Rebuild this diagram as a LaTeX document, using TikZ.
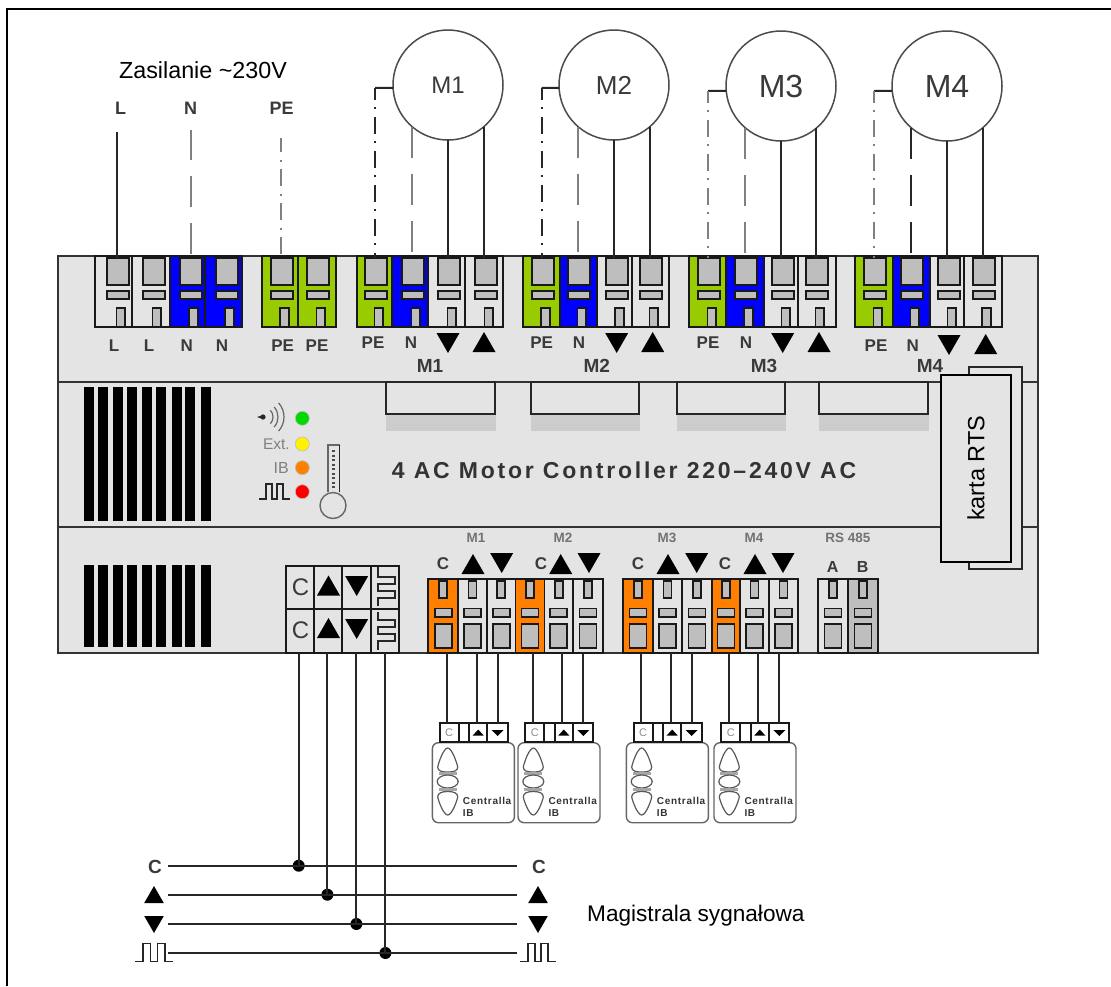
\documentclass[tikz,border=0pt]{standalone}
\usepackage{fontspec}
\setmainfont{Liberation Sans}
\newfontfamily\titlefont[LetterSpace=12]{Liberation Sans}
\newfontfamily\spacedfont[LetterSpace=7]{Liberation Sans}
\definecolor{devbg}{HTML}{E4E4E4}
\definecolor{portgray}{HTML}{BEBEBE}
\definecolor{tblue}{HTML}{0000FF}
\definecolor{tgreen}{HTML}{99CC00}
\definecolor{torange}{HTML}{FF8000}
\definecolor{tshadow}{HTML}{CCCCCC}
\definecolor{soft}{HTML}{3A3A3A}
\definecolor{wiregray}{HTML}{808080}
\newcommand{\fsz}[1]{\fontsize{#1}{#1}\selectfont}
\tikzset{
  cellline/.style={draw=black!90,line width=1.9},
  portbox/.style={draw=black!90,line width=1.9,fill=portgray,inner sep=0pt,outer sep=0pt},
  wire/.style={draw=black!85,line width=2},
  nwire/.style={draw=wiregray,line width=2,dash pattern=on 31 off 16},
  pewire/.style={draw=wiregray,line width=2,dash pattern=on 17 off 7.5 on 2 off 7.5},
  label/.style={inner sep=0pt,text=soft},
  motor/.style={circle,draw=black!70,line width=1.5,fill=white,minimum size=110pt,inner sep=0pt,outer sep=0pt,text=soft},
  led/.style={circle,draw=black!25,line width=.6,minimum size=14pt,inner sep=0pt},
  busdot/.style={circle,fill=black,minimum size=12pt,inner sep=0pt},
  remotebox/.style={draw=black!60,line width=1.4,rounded corners=6pt,fill=white},
  btn/.style={draw=black!65,line width=1.2},
}
\newcommand{\topT}[5]{%
  \draw[cellline,fill=#4] (#2,256) rectangle (#3,327);
  \node[portbox,minimum width=22pt,minimum height=27pt] (#1) at (#5,271.5) {};
  \draw[cellline,fill=portgray] ({#5-11},290.7) rectangle ({#5+11},299.3);
  \draw[cellline,fill=portgray] ({#5-1.5},308) rectangle ({#5+7},327);
}
\newcommand{\lowT}[4]{%
  \draw[cellline,fill=#4] (#2,579) rectangle (#3,653);
  \node[portbox,minimum width=17pt,minimum height=24pt] (#1) at ({(#2+#3)/2},636) {};
  \draw[cellline,fill=portgray] ({(#2+#3)/2-8.5},608.5) rectangle ({(#2+#3)/2+8.5},617);
  \draw[cellline,fill=portgray] ({(#2+#3)/2-4},581) rectangle ({(#2+#3)/2+4},598);
}
\newcommand{\upT}[3][1]{\fill[black,shift={(#2,#3)},scale=#1] (-11.5,10) -- (0,-10) -- (11.5,10) -- cycle;}
\newcommand{\dnT}[3][1]{\fill[black,shift={(#2,#3)},scale=#1] (-11.5,-10) -- (0,10) -- (11.5,-10) -- cycle;}
\newcommand{\pulseS}[4]{\draw[line width=1.8,black!85,shift={(#1,#2)},xscale=#3,yscale=#4] (0,1) -- (2.2,1) -- (2.2,0) -- (4.1,0) -- (4.1,1) -- (5.9,1) -- (5.9,0) -- (7.8,0) -- (7.8,1) -- (10,1);}
% name, left
\newcommand{\remote}[2]{%
  \node[remotebox,minimum width=82pt,minimum height=80pt,anchor=north west,inner sep=0pt] (#1) at (#2,742) {};
  \begin{scope}[shift={(#2,0)}]
    \draw[cellline,fill=white] (8,723) rectangle (76,742);
    \coordinate (#1c) at (15.5,723); \coordinate (#1u) at (44.8,723); \coordinate (#1d) at (66,723);
    \draw[cellline] (27,723) -- (27,742) (37.5,723) -- (37.5,742) (55.5,723) -- (55.5,742);
    \node[label,text=black!45] at (17.5,733) {\fsz{11}C};
    \fill[black] (41,735.5) -- (46.5,729.5) -- (52,735.5) -- cycle;
    \fill[black] (60,730) -- (66,736) -- (72,730) -- cycle;
    \draw[btn] (16,748) .. controls (12,748) and (7,762) .. (6,767) .. controls (6,771) and (10,772) .. (16,772) .. controls (22,772) and (26,771) .. (26,767) .. controls (25,762) and (20,748) .. (16,748) -- cycle;
    \fill[black!35] (7,772) rectangle (25,775);
    \draw[btn] (16,781.5) ellipse [x radius=10.5,y radius=6.5];
    \fill[black!35] (7,788) rectangle (25,791);
    \draw[btn] (16,815) .. controls (12,815) and (7,802) .. (6,797) .. controls (6,793) and (10,791.5) .. (16,791.5) .. controls (22,791.5) and (26,793) .. (26,797) .. controls (25,802) and (20,815) .. (16,815) -- cycle;
    \node[label,anchor=west,text=black!80] at (31,800.5) {\spacedfont\fsz{10}\bfseries Centralla};
    \node[label,anchor=west,text=black!80] at (31,813) {\spacedfont\fsz{10}\bfseries IB};
  \end{scope}
}
\begin{document}
\begin{tikzpicture}[x=1pt,y=-1pt]
\useasboundingbox (0,0) rectangle (1111,986);
\fill[white] (0,0) rectangle (1111,986);
\draw[black,line width=2] (7,986) -- (7,9) -- (1111,9);
% device body
\node[draw=black!80,line width=2,fill=devbg,minimum width=980pt,minimum height=397pt,inner sep=0pt,outer sep=0pt] (dev) at (548,454.5) {};
\draw[black!80,line width=2] (58,382) -- (1038,382) (58,527) -- (1038,527);
% vents
\foreach \a in {84,97.7,113.3,126.7,142.3,156,171.7,185,200.7}{
  \fill[black] (\a,386.7) rectangle ++(10,134);
  \fill[black] (\a,565.3) rectangle ++(10,81.4);
}
% slots
\foreach \a/\b in {386/495,531/639.3,676.7/785,819/927.7}{
  \fill[tshadow] (\a,414) rectangle (\b+1,431);
  \draw[black!85,line width=2] (\a,382) rectangle (\b,414);
}
% top terminals
\topT{tL1}{95}{132.3}{devbg}{118}
\topT{tL2}{132.3}{170}{devbg}{154}
\topT{tN1}{170}{205}{tblue}{190.7}
\topT{tN2}{205}{241.7}{tblue}{226.7}
\topT{tP1}{261.7}{298.3}{tgreen}{281.7}
\topT{tP2}{298.3}{336}{tgreen}{318}
\topT{a1}{356.7}{391.7}{tgreen}{376}
\topT{a2}{391.7}{428.3}{tblue}{413}
\topT{a3}{428.3}{465}{devbg}{449}
\topT{a4}{465}{502.7}{devbg}{486}
\topT{b1}{523}{560}{tgreen}{542.7}
\topT{b2}{560}{597}{tblue}{579}
\topT{b3}{597}{632}{devbg}{616.7}
\topT{b4}{632}{669}{devbg}{651}
\topT{c1}{689}{726}{tgreen}{709}
\topT{c2}{726}{764}{tblue}{745.7}
\topT{c3}{764}{798}{devbg}{783}
\topT{c4}{798}{836}{devbg}{817}
\topT{d1}{855}{893}{tgreen}{875}
\topT{d2}{893}{930}{tblue}{912}
\topT{d3}{930}{964}{devbg}{949}
\topT{d4}{964}{1002}{devbg}{983.7}
% motors
\node[motor] (m1) at (448,85) {\fsz{24}M1};
\node[motor] (m2) at (614,85) {\fsz{26}M2};
\node[motor] (m3) at (781,86) {\fsz{32}M3};
\node[motor] (m4) at (947,86) {\fsz{32}M4};
% supply wires
\coordinate (sL) at (117,132);
\coordinate (sN) at (190.7,130);
\coordinate (sP) at (280.7,138);
\draw[wire] (sL) -- (sL |- tL1.north);
\draw[nwire,dash phase=1] (sN) -- (sN |- tN1.north);
\draw[pewire,dash phase=3] (sP) -- (sP |- tP1.north);
% motor wires
\coordinate (k1) at (375,87.9); \coordinate (k2) at (541.7,87.9);
\coordinate (k3) at (708,90.8); \coordinate (k4) at (874,90.8);
\draw[wire] (m1.183) -- (k1) (m2.183) -- (k2) (m3.185) -- (k3) (m4.185) -- (k4);
\draw[pewire,draw=black!85,dash phase=5] (k1) -- (k1 |- a1.north);
\draw[pewire,draw=black!85,dash phase=5] (k2) -- (k2 |- b1.north);
\draw[pewire,dash phase=5] (k3) -- (k3 |- c1.north);
\draw[pewire,dash phase=5] (k4) -- (k4 |- d1.north);
\draw[nwire] (m1.-131) -- (m1.-131 |- a2.north);
\draw[nwire] (m2.-131) -- (m2.-131 |- b2.north);
\draw[nwire] (m3.-131) -- (m3.-131 |- c2.north);
\draw[nwire,draw=black!85] (m4.-131) -- (m4.-131 |- d2.north);
\draw[wire] (m1.south) -- (m1.south |- a3.north) (m1.-49) -- (m1.-49 |- a4.north);
\draw[wire] (m2.south) -- (m2.south |- b3.north) (m2.-49) -- (m2.-49 |- b4.north);
\draw[wire] (m3.south) -- (m3.south |- c3.north) (m3.-50) -- (m3.-50 |- c4.north);
\draw[wire] (m4.south) -- (m4.south |- d3.north) (m4.-49) -- (m4.-49 |- d4.north);
% labels top
\node[label] at (120.7,108) {\fsz{18}\bfseries L};
\node[label] at (190.7,108) {\fsz{18}\bfseries N};
\node[label] at (281.7,108) {\fsz{18}\bfseries PE};
\node[label,text=black] at (203,70) {\fsz{23.3}Zasilanie \char"007E\relax 230V};
\foreach \x/\t in {114/L,149/L,186.7/N,222/N,282.7/PE,317/PE}{\node[label] at (\x,346) {\fsz{17}\bfseries\t};}
\foreach \x/\t/\y in {373/PE/343,411/N/343,541.7/PE/343,579/N/343,708/PE/343,746/N/343,876/PE/346,912.7/N/346}{\node[label] at (\x,\y) {\fsz{17}\bfseries\t};}
\dnT{448}{343}\upT{484}{342}
\dnT{616.7}{343}\upT{652.7}{342}
\dnT{782.7}{343}\upT{819}{342}
\dnT{949}{345}\upT{985.7}{344}
\foreach \x/\t in {430/M1,596.7/M2,764/M3,930/M4}{\node[label] at (\x,365.7) {\fsz{19}\bfseries\t};}
% LEDs
\node[led,fill=green!85!black] (ledA) at (302.3,418.3) {};
\node[led,fill=yellow] (ledB) at (302.3,444) {};
\node[led,fill=torange] (ledC) at (302.3,467.7) {};
\node[led,fill=red] (ledD) at (302.3,491.7) {};
\node[label,anchor=east,text=black!50] at (290,444) {\fsz{15.5}Ext.};
\node[label,anchor=east,text=black!50] at (289,467.7) {\fsz{16}IB};
\fill[black!85] (263,417) circle (2.6) (257,417) -- (263,415) -- (263,419) -- cycle;
\coordinate (sig) at (263,417);
\foreach \r in {10,15,21}{\draw[black!60,line width=1.2] ([shift={(-42:\r)}]sig) arc [start angle=-42,end angle=42,radius=\r];}
\pulseS{259}{484}{3.1}{15}
% thermometer
\draw[black!60,line width=1.2] (328,492) -- (328,445) -- (339.5,445);
\draw[black!85,line width=1.8] (339.5,445) -- (339.5,492);
\draw[black!70,line width=3,dash pattern=on 2 off 2.5] (333,450) -- (333,488);
\draw[black!60,line width=1.4,fill=devbg] (333,505.5) circle (13);
% title
\node[label,text=black!80] (title) at (624,470) {\titlefont\fsz{23}\bfseries 4 AC Motor Controller 220–240V AC};
% bus terminal
\draw[cellline] (285.7,566) rectangle (399.3,653);
\draw[cellline] (285.7,609) -- (399.3,609) (314.3,566) -- (314.3,653) (342.3,566) -- (342.3,653) (371,566) -- (371,653);
\node[label] at (300.5,587) {\fsz{24}C};
\node[label] at (300.5,630) {\fsz{24}C};
\upT{328.5}{585.5}\upT{328.5}{628}
\dnT{356.7}{586}\dnT{356.7}{629}
\draw[black!85,line width=1.7] (378,567) -- (378,577) -- (395,577) -- (395,584) -- (378,584) -- (378,591) -- (395,591) -- (395,598) -- (378,598) -- (378,606);
\draw[black!85,line width=1.7] (378,612) -- (378,620) -- (395,620) -- (395,627) -- (378,627) -- (378,634) -- (395,634) -- (395,641) -- (378,641) -- (378,650);
% low terminals
\lowT{p1}{428.3}{458}{torange}
\lowT{p2}{458}{487}{devbg}
\lowT{p3}{487}{515.5}{devbg}
\lowT{q1}{515.5}{544.5}{torange}
\lowT{q2}{544.5}{573}{devbg}
\lowT{q3}{573}{603}{devbg}
\lowT{r1}{623}{653}{torange}
\lowT{r2}{653}{682}{devbg}
\lowT{r3}{682}{712}{devbg}
\lowT{s1}{712}{740}{torange}
\lowT{s2}{740}{769}{devbg}
\lowT{s3}{769}{798}{devbg}
\lowT{u1}{818}{848}{devbg}
\lowT{u2}{848}{878}{portgray}
\foreach \x/\t in {476/M1,563/M2,667/M3,754/M4,848/RS 485}{\node[label,text=black!55] at (\x,538) {\fsz{13.5}\bfseries\t};}
\foreach \x in {443,541,638,725}{\node[label] at (\x,564) {\fsz{17}\bfseries C};}
\upT{473}{564}\dnT{501.7}{563}
\upT{560.7}{564}\dnT{589}{563}
\upT{668}{564}\dnT{696.7}{563}
\upT{755}{564}\dnT{783}{563}
\node[label] at (832.7,566.7) {\fsz{16}\bfseries A};
\node[label] at (862.7,566.7) {\fsz{16}\bfseries B};
% RTS card
\draw[black!85,line width=2,fill=devbg] (969,367.3) rectangle (1022.3,569.3);
\node[draw=black,line width=2,fill=devbg,minimum width=70pt,minimum height=186.7pt,inner sep=0pt] (rts) at (976,468.3) {};
\node[inner sep=0pt,rotate=90,text=black] at (rts.center) {\fsz{23.5}karta RTS};
% remotes
\remote{ra}{431.7}
\remote{rb}{517.3}
\remote{rc}{625.7}
\remote{rd}{713.3}
\foreach \n in {ra,rb,rc,rd}{
  \draw[wire] (\n c) -- (\n c |- dev.south) (\n u) -- (\n u |- dev.south) (\n d) -- (\n d |- dev.south);
}
% bus
\coordinate (bl1) at (168,865.7); \coordinate (br1) at (516.7,865.7);
\coordinate (bl2) at (168,894.7); \coordinate (br2) at (516.7,894.7);
\coordinate (bl3) at (168,924); \coordinate (br3) at (516.7,924);
\coordinate (bl4) at (168,953); \coordinate (br4) at (516.7,953);
\node[busdot] (j1) at (298.7,865.7) {};
\node[busdot] (j2) at (327.4,894.7) {};
\node[busdot] (j3) at (356.4,924) {};
\node[busdot] (j4) at (385.4,953) {};
\foreach \i in {1,2,3,4}{
  \draw[wire] (bl\i) -- (br\i);
  \draw[wire] (j\i.center) -- (j\i.center |- dev.south);
}
\node[label] at (155,866.5) {\fsz{19}\bfseries C};
\node[label] at (539,866.5) {\fsz{19}\bfseries C};
\upT[.85]{154}{894.5}\upT[.85]{538}{894.5}
\dnT[.85]{154}{924.5}\dnT[.85]{538}{924.5}
\pulseS{135}{943.5}{3.8}{18}
\pulseS{520}{943.5}{3.6}{18}
\node[label,anchor=west,text=black] at (587,916) {\fsz{22.6}Magistrala sygnałowa};
\end{tikzpicture}
\end{document}
